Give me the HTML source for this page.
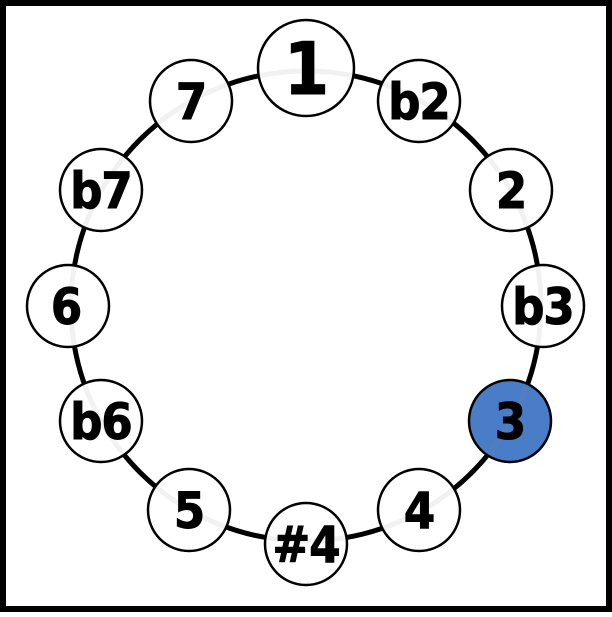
<!DOCTYPE html>
<html><head><style>body{margin:0;background:#fff}</style></head><body>
<svg width="612" height="612" viewBox="0 0 612 612" xmlns="http://www.w3.org/2000/svg" font-family="DejaVu Sans Condensed, DejaVu Sans, sans-serif" font-weight="bold" text-anchor="middle">
<defs>
<clipPath id="nc">
<circle cx="306" cy="68" r="47"/>
<circle cx="419" cy="101" r="40"/>
<circle cx="511" cy="190" r="40"/>
<circle cx="543" cy="306" r="40"/>
<circle cx="510" cy="421" r="40"/>
<circle cx="419" cy="510" r="40"/>
<circle cx="306" cy="544" r="40"/>
<circle cx="189" cy="510" r="40"/>
<circle cx="101" cy="421" r="40"/>
<circle cx="68" cy="306" r="40"/>
<circle cx="101" cy="190" r="40"/>
<circle cx="191" cy="101" r="40"/>
</clipPath>
</defs>
<rect x="3" y="3" width="606" height="606" fill="#fff" stroke="#000" stroke-width="6"/>
<circle cx="306" cy="306" r="235" fill="none" stroke="#000" stroke-width="5"/>
<g stroke="#000" stroke-width="2.5" fill="#fff">
<circle cx="306" cy="68" r="48"/>
<circle cx="419" cy="101" r="41"/>
<circle cx="511" cy="190" r="41"/>
<circle cx="543" cy="306" r="41"/>
<circle cx="510" cy="421" r="41" fill="#4a7dc8"/>
<circle cx="419" cy="510" r="41"/>
<circle cx="306" cy="544" r="41"/>
<circle cx="189" cy="510" r="41"/>
<circle cx="101" cy="421" r="41"/>
<circle cx="68" cy="306" r="41"/>
<circle cx="101" cy="190" r="41"/>
<circle cx="191" cy="101" r="41"/>
</g>
<circle cx="306" cy="306" r="235" fill="none" stroke="#888" stroke-opacity="0.12" stroke-width="5" clip-path="url(#nc)"/>
<g font-size="50" fill="#000" stroke="#000" stroke-width="1" letter-spacing="-1">
<text x="306" y="94" font-size="72">1</text>
<text x="419" y="119">b2</text>
<text x="511" y="208">2</text>
<text x="543" y="324">b3</text>
<text x="510" y="439">3</text>
<text x="419" y="528">4</text>
<text x="306" y="562">#4</text>
<text x="189" y="528">5</text>
<text x="101" y="439">b6</text>
<text x="66" y="324">6</text>
<text x="101" y="208">b7</text>
<text x="191" y="119">7</text>
</g>
</svg>
</body></html>
